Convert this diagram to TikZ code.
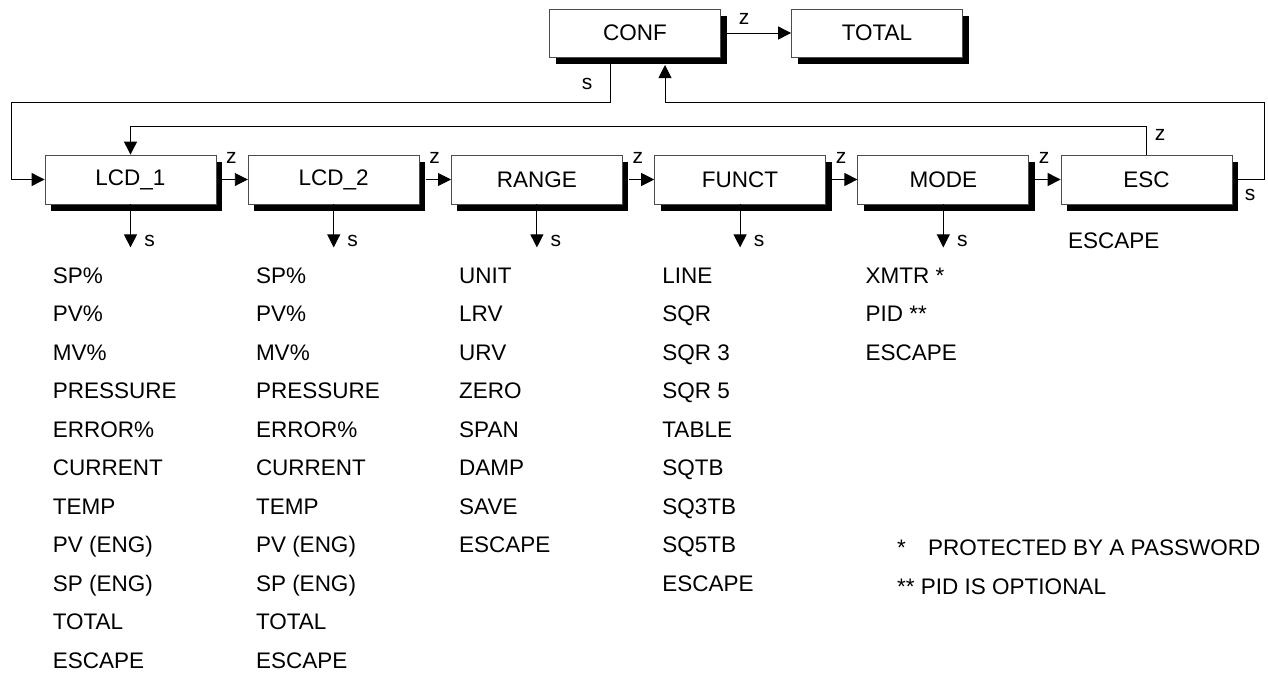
\documentclass[tikz,border=0pt]{standalone}
\usepackage{fontspec}
\setmainfont{Liberation Sans}
\usetikzlibrary{arrows.meta,shadows}
\begin{document}
\begin{tikzpicture}[x=1pt,y=-1pt,
  txt/.style={font=\fontsize{22.5}{26}\selectfont, inner sep=0pt, anchor=base west},
  lbl/.style={font=\fontsize{21}{25}\selectfont, inner sep=0pt},
  box/.style={draw=black!70, line width=0.8pt, fill=white, minimum width=171pt, minimum height=48pt, inner sep=0pt,
    font=\fontsize{22.5}{26}\selectfont,
    drop shadow={shadow xshift=6pt, shadow yshift=-7pt, opacity=1, fill=black}},
  conn/.style={line width=0.9pt, draw=black},
  arr/.style={conn, -{Triangle[length=13pt,width=13pt]}}
]
\useasboundingbox (0,0) rectangle (1268,673);
% top boxes
\node[box] (conf) at (635,33) {CONF};
\node[box] (total) at (877,33) {TOTAL};
% row boxes
\foreach \n/\t [count=\i from 0] in {lcd1/LCD\_1, lcd2/LCD\_2, range/RANGE, funct/FUNCT, mode/MODE, esc/ESC}{
  \node[box, minimum height=49pt] (\n) at ({130.5+203.2*\i},179.5) {\t};
}
% CONF -> TOTAL
\draw[arr] ([xshift=6pt]conf.east) -- (total.west);
\node[lbl] (zc) at (744,19) {z};
% chain z arrows
\foreach \a/\b in {lcd1/lcd2, lcd2/range, range/funct, funct/mode, mode/esc}{
  \draw[arr] ([xshift=6pt]\a.east) -- (\b.west);
  \node[lbl] at ([xshift=15pt,yshift=-3pt]\a.north east) {z};
}
% s down arrows
\foreach \a in {lcd1, lcd2, range, funct, mode}{
  \draw[arr] (\a.south) -- ([yshift=-43pt]\a.south);
  \node[lbl] at ([xshift=19pt,yshift=-37pt]\a.south) {s};
}
% CONF s -> LCD_1
\coordinate (cs) at (610,64);
\coordinate (c1) at (11,102);
\draw[arr] (cs) |- (c1) |- (lcd1.west);
\node[lbl] (sc) at (587,84) {s};
% ESC s -> CONF
\coordinate (e1) at (1264,102);
\coordinate (confin) at (665,65);
\draw[arr] ([xshift=6pt]esc.east) -| (e1) -| (confin);
\node[lbl] (se) at (1250,195) {s};
% ESC z -> LCD_1
\coordinate (zt) at (0,126);
\draw[arr] (esc.north) |- (zt -| lcd1.north) -- (lcd1.north);
\node[lbl] (ze) at (1160,135) {z};
% lists
\foreach \n in {lcd1, lcd2}{
  \foreach \t [count=\k from 0] in {SP\%, PV\%, MV\%, PRESSURE, ERROR\%, CURRENT, TEMP, PV (ENG), SP (ENG), TOTAL, ESCAPE}{
    \node[txt] at ([xshift=8pt]\n.west |- 0,{283+38.5*\k}) {\t};
  }
}
\foreach \t [count=\k from 0] in {UNIT, LRV, URV, ZERO, SPAN, DAMP, SAVE, ESCAPE}{
  \node[txt] at ([xshift=8pt]range.west |- 0,{283+38.5*\k}) {\t};
}
\foreach \t [count=\k from 0] in {LINE, SQR, SQR 3, SQR 5, TABLE, SQTB, SQ3TB, SQ5TB, ESCAPE}{
  \node[txt] at ([xshift=8pt]funct.west |- 0,{283+38.5*\k}) {\t};
}
\foreach \t [count=\k from 0] in {XMTR *, PID **, ESCAPE}{
  \node[txt] at ([xshift=8pt]mode.west |- 0,{283+38.5*\k}) {\t};
}
\node[txt] (escape) at (1068,248) {ESCAPE};
\node[txt] (f1a) at (897,555) {*};
\node[txt] (f1b) at (928,555) {PROTECTED BY A PASSWORD};
\node[txt] (f2) at (897,594) {** PID IS OPTIONAL};
\end{tikzpicture}
\end{document}
